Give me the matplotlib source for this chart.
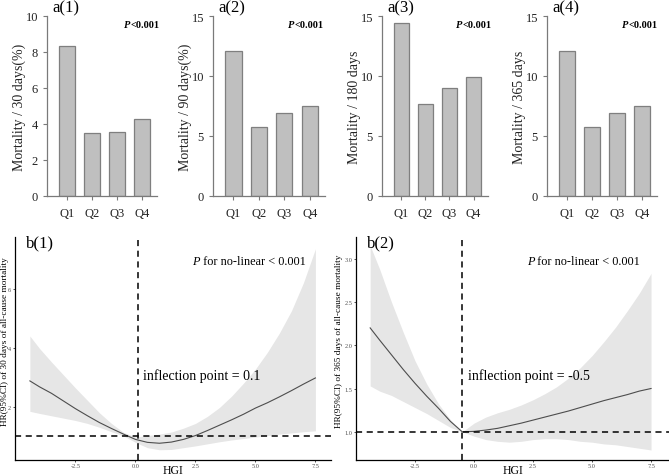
import matplotlib
matplotlib.use("Agg")
import matplotlib.pyplot as plt

plt.rcParams['font.family'] = ['Liberation Serif', 'DejaVu Serif']

# top row: mortality by HGI quartile
quartiles = ['Q1', 'Q2', 'Q3', 'Q4']
mort_30 = [8.35, 3.5, 3.55, 4.3]
mort_90 = [12.1, 5.75, 6.95, 7.5]
mort_180 = [14.45, 7.65, 9.0, 9.95]
mort_365 = [12.1, 5.75, 6.95, 7.5]

# bottom row: restricted cubic spline, HR vs HGI
hgi = [-4.4, -4.0, -3.5, -3.0, -2.5, -2.0, -1.5, -1.0, -0.5, 0.0, 0.5, 1.0, 1.5,
       2.0, 2.5, 3.0, 3.5, 4.0, 4.5, 5.0, 5.5, 6.0, 6.5, 7.0, 7.5]
hr30 = [2.88, 2.68, 2.46, 2.20, 1.94, 1.70, 1.47, 1.27, 1.08, 0.90, 0.80, 0.77, 0.81,
        0.90, 1.03, 1.20, 1.38, 1.56, 1.75, 1.96, 2.14, 2.34, 2.55, 2.77, 2.98]
hr30_hi = [4.40, 3.98, 3.52, 3.08, 2.64, 2.22, 1.80, 1.44, 1.14, 0.98, 1.03, 1.08, 1.15,
           1.28, 1.44, 1.68, 1.98, 2.36, 2.80, 3.28, 3.85, 4.50, 5.25, 6.20, 7.35]
hr30_lo = [1.85, 1.78, 1.70, 1.62, 1.54, 1.44, 1.31, 1.16, 1.02, 0.80, 0.62, 0.55, 0.56,
           0.62, 0.68, 0.75, 0.82, 0.88, 0.93, 0.98, 1.03, 1.08, 1.12, 1.16, 1.19]
hr365 = [2.20, 2.06, 1.89, 1.72, 1.56, 1.41, 1.27, 1.12, 1.00, 1.005, 1.02, 1.04, 1.07,
         1.10, 1.135, 1.17, 1.205, 1.24, 1.28, 1.32, 1.36, 1.395, 1.43, 1.47, 1.50]
hr365_hi = [3.15, 2.88, 2.50, 2.15, 1.82, 1.55, 1.32, 1.14, 1.00, 1.10, 1.17, 1.22, 1.26,
            1.31, 1.37, 1.44, 1.52, 1.62, 1.74, 1.88, 2.04, 2.21, 2.40, 2.60, 2.83]
hr365_lo = [1.53, 1.47, 1.42, 1.35, 1.28, 1.21, 1.13, 1.05, 1.00, 0.95, 0.91, 0.89, 0.88,
            0.89, 0.91, 0.92, 0.92, 0.91, 0.89, 0.88, 0.86, 0.85, 0.83, 0.81, 0.79]

W, H = 669, 477
fig = plt.figure(figsize=(W / 100, H / 100), dpi=100)


def px_axes(left, right, top, bottom):
    return fig.add_axes([left / W, 1 - bottom / H, (right - left) / W, (bottom - top) / H])


# ---- bar panels ----
bar_specs = [
    (47, 157, mort_30, 10, [0, 2, 4, 6, 8, 10], 'Mortality / 30 days(%)', 'a(1)', 0.755),
    (213, 325, mort_90, 15, [0, 5, 10, 15], 'Mortality / 90 days(%)', 'a(2)', 0.73),
    (382, 488, mort_180, 15, [0, 5, 10, 15], 'Mortality / 180 days', 'a(3)', 0.755),
    (547, 657, mort_365, 15, [0, 5, 10, 15], 'Mortality / 365 days', 'a(4)', 0.74),
]
spine_col = '#7a7a7a'
for left, right, vals, ymax, yt, ylab, tag, px in bar_specs:
    ax = px_axes(left, right, 17, 197)
    ax.bar(range(4), vals, width=0.64, color='#bfbfbf', edgecolor='#7f7f7f', linewidth=0.9)
    ax.set_xlim(-0.8, 3.6)
    ax.set_ylim(0, ymax)
    ax.set_yticks(yt)
    ax.set_xticks(range(4))
    ax.set_xticklabels(quartiles)
    for s in ['top', 'right']:
        ax.spines[s].set_visible(False)
    for s in ['left', 'bottom']:
        ax.spines[s].set_color(spine_col)
        ax.spines[s].set_linewidth(0.9)
    ax.tick_params(axis='both', colors=spine_col, labelcolor='#222222', labelsize=9,
                   length=3, width=0.8)
    ax.tick_params(axis='x', pad=5)
    ax.set_ylabel(ylab, fontsize=10, color='#222222')
    ax.yaxis.set_label_coords(-0.19 * 110 / (right - left), 0.5)
    ax.text(px, 0.95, 'P', transform=ax.transAxes, fontsize=7.5, fontweight='bold',
            style='italic', ha='right', va='center')
    ax.text(px, 0.95, '<0.001', transform=ax.transAxes, fontsize=7.5, fontweight='bold',
            ha='left', va='center')
    fig.text((left + 5) / W, 1 - 8 / H, tag, fontsize=12, ha='left', va='center')

# ---- spline panels ----
rcs_specs = [
    (15, 331, (-5.02, 8.15), (0.22, 7.75), [2, 4, 6], ['2', '4', '6'],
     hr30, hr30_lo, hr30_hi, 0.1, 'HR(95%CI) of 30 days of all-cause mortality',
     'inflection point = 0.1', 'b(1)', 0.584, 0.405, -0.020),
    (356, 669, (-5.0, 8.26), (0.68, 3.25), [1.0, 1.5, 2.0, 2.5, 3.0],
     ['1.0', '1.5', '2.0', '2.5', '3.0'],
     hr365, hr365_lo, hr365_hi, -0.5, 'HR(95%CI) of 365 days of all-cause mortality',
     'inflection point = -0.5', 'b(2)', 0.569, 0.359, -0.042),
]
for (left, right, xl, yl, yt, ytl, hr, lo, hi, ip, ylab, iptxt, tag, ppos, ipx,
     ylx) in rcs_specs:
    ax = px_axes(left, right, 238, 460.5)
    ax.fill_between(hgi, lo, hi, color='#e6e6e6', linewidth=0)
    ax.plot(hgi, hr, color='#4d4d4d', linewidth=0.8)
    ax.axhline(1, color='black', linestyle=(0, (4, 3)), linewidth=1.1)
    ax.axvline(ip, color='black', linestyle=(0, (4, 3)), linewidth=1.1)
    ax.set_xlim(*xl)
    ax.set_ylim(*yl)
    ax.set_xticks([-2.5, 0.0, 2.5, 5.0, 7.5])
    ax.set_xticklabels(['-2.5', '0.0', '2.5', '5.0', '7.5'])
    ax.set_yticks(yt)
    ax.set_yticklabels(ytl)
    for s in ['top', 'right']:
        ax.spines[s].set_visible(False)
    for s in ['left', 'bottom']:
        ax.spines[s].set_color('black')
        ax.spines[s].set_linewidth(0.9)
    ax.tick_params(axis='both', colors='#333333', labelcolor='#4d4d4d', labelsize=4.5,
                   length=1.5, width=0.6, pad=1.2)
    ax.set_xlabel('HGI', fontsize=8.5)
    ax.xaxis.set_label_coords(0.5, -0.022)
    ax.set_ylabel(ylab, fontsize=6.7)
    ax.yaxis.set_label_coords(ylx, 0.535)
    ax.text(ppos, 0.892, 'P', transform=ax.transAxes, fontsize=8.8, style='italic',
            ha='right', va='center')
    ax.text(ppos, 0.892, ' for no-linear < 0.001', transform=ax.transAxes, fontsize=8.8,
            ha='left', va='center')
    ax.text(ipx, 0.38, iptxt, transform=ax.transAxes, fontsize=10, ha='left',
            va='center')
    ax.text(11 / (right - left), 0.975, tag, transform=ax.transAxes,
            fontsize=12, ha='left', va='center', clip_on=False)

fig.savefig('out.png', dpi=100)
